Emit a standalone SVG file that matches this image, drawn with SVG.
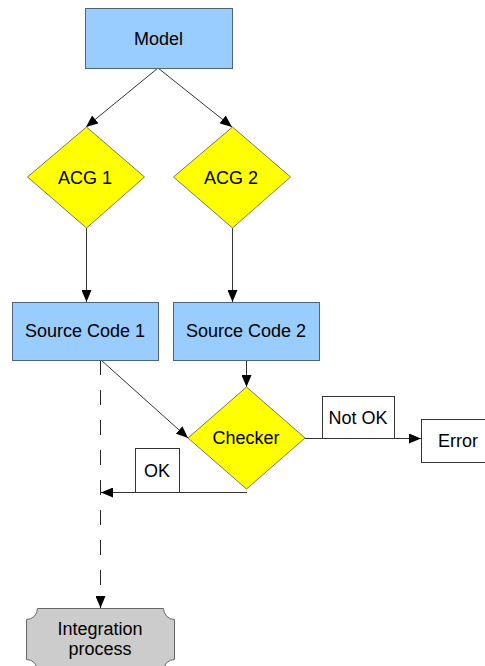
<svg xmlns="http://www.w3.org/2000/svg" width="485" height="666" viewBox="0 0 485 666">
  <style>
    .box { fill: #99ccff; stroke: #4f6479; stroke-width: 1; }
    .dec { fill: #ffff00; stroke: #7a7a52; stroke-width: 1; }
    .lbl { fill: #ffffff; stroke: #333333; stroke-width: 1; }
    .term { fill: #cccccc; stroke: #666666; stroke-width: 1; }
    .edge { fill: none; stroke: #333333; stroke-width: 1; }
    .dash { stroke: #222222; stroke-dasharray: 15 15; }
    text { font-family: "Liberation Sans", Arial, sans-serif; font-size: 18px; fill: #000000; text-anchor: middle; }
  </style>
  <defs>
    <marker id="arrow" markerUnits="userSpaceOnUse" markerWidth="12" markerHeight="10" refX="12" refY="5" orient="auto">
      <path d="M0,0 L12,5 L0,10 Z" fill="#000000"/>
    </marker>
  </defs>
  <rect width="485" height="666" fill="#ffffff"/>

  <g id="connectors">
    <line class="edge" x1="158" y1="68" x2="86" y2="127" marker-end="url(#arrow)"/>
    <line class="edge" x1="158" y1="68" x2="232" y2="127" marker-end="url(#arrow)"/>
    <line class="edge" x1="86.5" y1="228" x2="86.5" y2="302" marker-end="url(#arrow)"/>
    <line class="edge" x1="232.5" y1="228" x2="232.5" y2="302" marker-end="url(#arrow)"/>
    <line class="edge" x1="246.5" y1="360" x2="246.5" y2="387" marker-end="url(#arrow)"/>
    <line class="edge" x1="101" y1="360" x2="188" y2="438" marker-end="url(#arrow)"/>
    <line class="edge" x1="305" y1="438.5" x2="421" y2="438.5" marker-end="url(#arrow)"/>
    <line class="edge" x1="247" y1="492.5" x2="101" y2="492.5" marker-end="url(#arrow)"/>
    <line class="edge dash" x1="100.5" y1="360" x2="100.5" y2="608" marker-end="url(#arrow)"/>
  </g>

  <g id="model">
    <rect class="box" x="85.5" y="8.5" width="147" height="60"/>
    <text x="158.5" y="45">Model</text>
  </g>

  <g id="acg1">
    <polygon class="dec" points="86.5,127 144.5,177 86.5,228 27.5,177"/>
    <text x="85" y="184">ACG 1</text>
  </g>

  <g id="acg2">
    <polygon class="dec" points="232.5,127 290.5,177 232.5,228 173.5,177"/>
    <text x="231" y="184">ACG 2</text>
  </g>

  <g id="source-code-1">
    <rect class="box" x="12.5" y="302.5" width="146" height="58"/>
    <text x="85" y="337">Source Code 1</text>
  </g>

  <g id="source-code-2">
    <rect class="box" x="173.5" y="302.5" width="146" height="58"/>
    <text x="246" y="337">Source Code 2</text>
  </g>

  <g id="checker">
    <polygon class="dec" points="246.5,387 305,438 246.5,489 188,438"/>
    <text x="246" y="444">Checker</text>
  </g>

  <g id="label-not-ok">
    <rect class="lbl" x="322.5" y="396.5" width="72" height="42"/>
    <text x="358" y="424">Not OK</text>
  </g>

  <g id="error">
    <rect class="lbl" x="421.5" y="419.5" width="80" height="43"/>
    <text x="458" y="447">Error</text>
  </g>

  <g id="label-ok">
    <rect class="lbl" x="135.5" y="448.5" width="44" height="44"/>
    <text x="157" y="477">OK</text>
  </g>

  <g id="integration-process">
    <path class="term" d="M37.5,608.5 H163.5 A11,11 0 0 0 174.5,619.5 V659.5 A11,11 0 0 0 163.5,670.5 H37.5 A11,11 0 0 0 26.5,659.5 V619.5 A11,11 0 0 0 37.5,608.5 Z"/>
    <text x="100" y="635">Integration</text>
    <text x="100" y="655">process</text>
  </g>
</svg>
